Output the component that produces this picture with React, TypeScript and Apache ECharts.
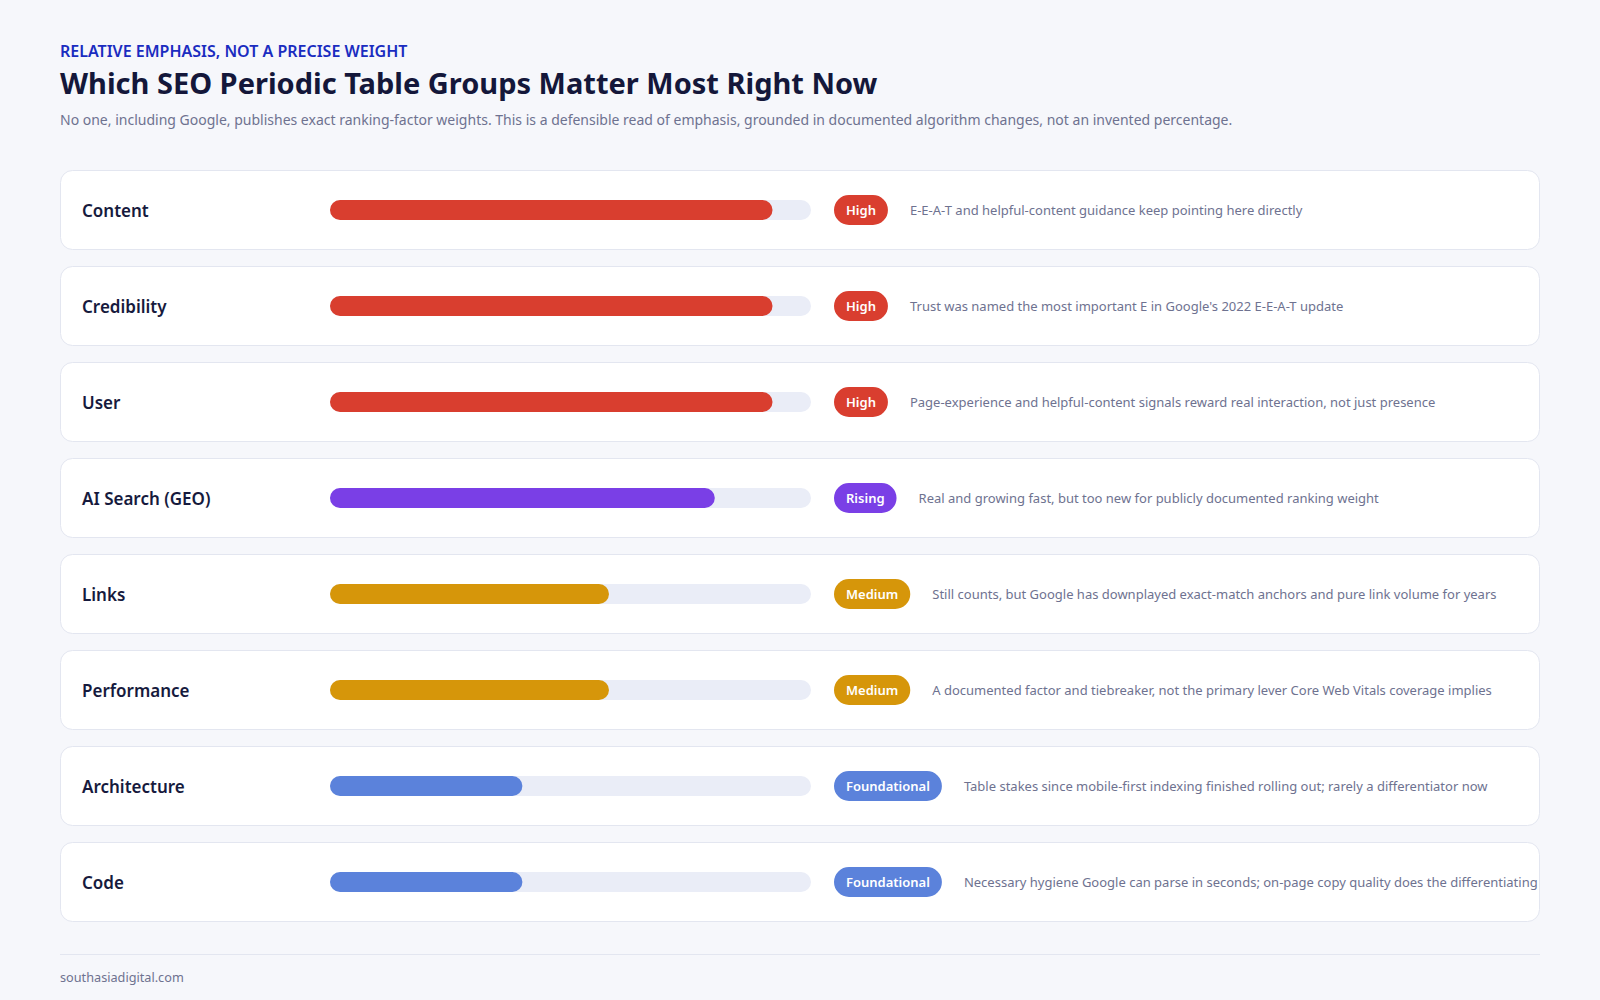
import React, { useEffect, useRef } from "react";
import * as echarts from "echarts";

const groups = ["Content", "Credibility", "User", "AI Search (GEO)", "Links", "Performance", "Architecture", "Code"];
const emphasis = [92, 92, 92, 80, 58, 58, 40, 40];
const levels = ["High", "High", "High", "Rising", "Medium", "Medium", "Foundational", "Foundational"];
const notes = [
  "E-E-A-T and helpful-content guidance keep pointing here directly",
  "Trust was named the most important E in Google's 2022 E-E-A-T update",
  "Page-experience and helpful-content signals reward real interaction, not just presence",
  "Real and growing fast, but too new for publicly documented ranking weight",
  "Still counts, but Google has downplayed exact-match anchors and pure link volume for years",
  "A documented factor and tiebreaker, not the primary lever Core Web Vitals coverage implies",
  "Table stakes since mobile-first indexing finished rolling out; rarely a differentiator now",
  "Necessary hygiene Google can parse in seconds; on-page copy quality does the differentiating",
];
const trackMax = [100, 100, 100, 100, 100, 100, 100, 100];
const levelColors: Record<string, string> = {
  High: "#d93e2f",
  Rising: "#7a3fe6",
  Medium: "#d6960a",
  Foundational: "#5b82db",
};

const FONT = "'Noto Sans', sans-serif";

export default function App() {
  const ref = useRef<HTMLDivElement>(null);
  useEffect(() => {
    document.body.style.margin = "0";
    const chart = echarts.init(ref.current!, null, { renderer: "svg" });
    const cardTop = 170;
    const stride = 96;
    const cards = groups.map((_, i) => ({
      type: "rect",
      z: 0,
      silent: true,
      shape: { x: 60.5, y: cardTop + i * stride + 0.5, width: 1479, height: 79, r: 12 },
      style: { fill: "#ffffff", stroke: "#e3e6f0", lineWidth: 1 },
    }));
    const rich: any = {
      d: { fontFamily: FONT, fontSize: 13, color: "#6e7290", padding: [0, 0, 0, 22] },
    };
    Object.keys(levelColors).forEach((k) => {
      rich[k] = {
        fontFamily: FONT,
        fontSize: 13,
        fontWeight: 600,
        color: "#ffffff",
        backgroundColor: levelColors[k],
        borderRadius: 15,
        padding: [0, 12],
        height: 30,
        lineHeight: 30,
      };
    });
    chart.setOption({
      animation: false,
      backgroundColor: "#f6f7fb",
      textStyle: { fontFamily: FONT },
      graphic: [
        ...cards,
        {
          type: "text",
          left: 60,
          top: 43,
          style: { text: "RELATIVE EMPHASIS, NOT A PRECISE WEIGHT", font: `600 16px ${FONT}`, fill: "#1a2cc0" },
        },
        {
          type: "text",
          left: 60,
          top: 68,
          style: { text: "Which SEO Periodic Table Groups Matter Most Right Now", font: `700 29px ${FONT}`, fill: "#14173a" },
        },
        {
          type: "text",
          left: 60,
          top: 112,
          style: {
            text: "No one, including Google, publishes exact ranking-factor weights. This is a defensible read of emphasis, grounded in documented algorithm changes, not an invented percentage.",
            font: `400 14px ${FONT}`,
            fill: "#6e7290",
          },
        },
        {
          type: "line",
          shape: { x1: 60, y1: 954.5, x2: 1540, y2: 954.5 },
          style: { stroke: "#e3e6f0", lineWidth: 1 },
        },
        {
          type: "text",
          left: 60,
          top: 970,
          style: { text: "southasiadigital.com", font: `400 12.7px ${FONT}`, fill: "#6e7290" },
        },
      ],
      grid: { left: 330, width: 481, top: 162, height: 768, containLabel: false },
      xAxis: { type: "value", min: 0, max: 100, show: false },
      yAxis: {
        type: "category",
        data: groups,
        inverse: true,
        axisLine: { show: false },
        axisTick: { show: false },
        splitLine: { show: false },
        axisLabel: {
          margin: 248,
          align: "left",
          fontFamily: FONT,
          fontSize: 17,
          fontWeight: 600,
          color: "#161a3d",
        },
      },
      series: [
        {
          type: "bar",
          data: trackMax,
          barWidth: 20,
          silent: true,
          z: 2,
          itemStyle: { color: "#eaedf7", borderRadius: 10 },
          label: {
            show: true,
            position: "right",
            distance: 23,
            formatter: (p: any) => `{${levels[p.dataIndex]}|${levels[p.dataIndex]}}{d|${notes[p.dataIndex]}}`,
            rich,
          },
        },
        {
          type: "bar",
          data: emphasis.map((v, i) => ({ value: v, itemStyle: { color: levelColors[levels[i]] } })),
          barWidth: 20,
          barGap: "-100%",
          silent: true,
          z: 3,
          itemStyle: { borderRadius: 10 },
        },
      ],
    });
    return () => chart.dispose();
  }, []);
  return <div ref={ref} style={{ width: 1600, height: 1000 }} />;
}
